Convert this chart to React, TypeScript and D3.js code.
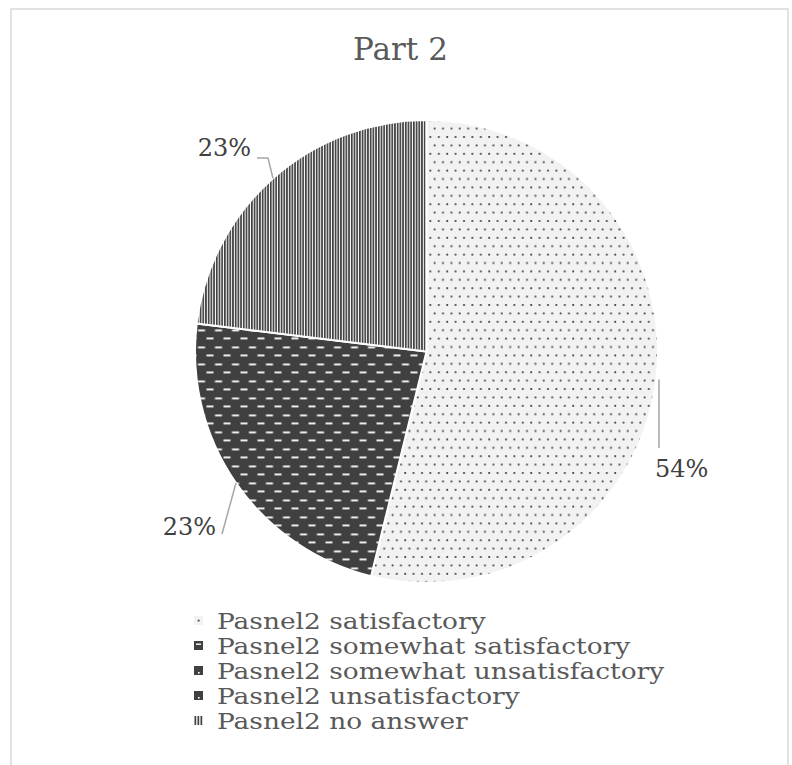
import React from "react";
import * as d3 from "d3";

const title = "Part 2";
const categories = [
  "Pasnel2 satisfactory",
  "Pasnel2 somewhat satisfactory",
  "Pasnel2 somewhat unsatisfactory",
  "Pasnel2 unsatisfactory",
  "Pasnel2 no answer",
];
const values = [7, 3, 0, 0, 3];
const patternIds = ["pDots", "pDash", "pSU", "pUns", "pVert"];

const W = 792;
const H = 765;
const cx = 426.5;
const cy = 351.5;
const R = 231.5;
const FONT = "'DejaVu Serif', serif";

const labelLayout: Record<number, { lx: number; ly: number; anchor: string; path: (a: [number, number]) => string }> = {
  0: {
    lx: 655, ly: 477, anchor: "start",
    path: (a) => `M659,${a[1]}L659,448`,
  },
  1: {
    lx: 216, ly: 535, anchor: "end",
    path: (a) => `M${a[0]},${a[1]}L222,534`,
  },
  4: {
    lx: 251, ly: 156, anchor: "end",
    path: (a) => `M${a[0]},${a[1]}L268,158L257,158`,
  },
};

function Marker({ i, x, y }: { i: number; x: number; y: number }) {
  const s = 9;
  if (i === 0)
    return (
      <g>
        <rect x={x} y={y} width={s} height={s} fill="#f2f2f2" />
        <rect x={x + 3.7} y={y + 3.7} width={1.8} height={1.8} fill="#404040" />
      </g>
    );
  if (i === 1)
    return (
      <g>
        <rect x={x} y={y} width={s} height={s} fill="#404040" />
        <rect x={x + 2} y={y + 2.5} width={5} height={1.4} fill="#ffffff" />
      </g>
    );
  if (i === 2 || i === 3)
    return (
      <g>
        <rect x={x} y={y} width={s} height={s} fill="#404040" />
        <rect x={x + 4} y={y + 6} width={1.6} height={1.6} fill="#ffffff" />
      </g>
    );
  return (
    <g>
      <rect x={x} y={y} width={s} height={s} fill="#ffffff" />
      {[0, 3, 6].map((d) => (
        <rect key={d} x={x + d + 0.5} y={y} width={1.7} height={s} fill="#404040" />
      ))}
    </g>
  );
}

export default function App() {
  const total = d3.sum(values);
  const pie = d3.pie<number>().sort(null).value((d) => d).startAngle(0).endAngle(2 * Math.PI);
  const arcs = pie(values);
  const arc = d3.arc<d3.PieArcDatum<number>>().innerRadius(0).outerRadius(R);
  const fmt = d3.format(".0%");

  const legendX = 194;
  const legendY0 = 629;
  const legendStep = 25;

  return (
    <svg width={W} height={H} style={{ position: "absolute", left: 0, top: 0 }}>
      <defs>
        <pattern id="pDots" patternUnits="userSpaceOnUse" width={8.4} height={16.8}>
          <rect width={8.4} height={16.8} fill="#f2f2f2" />
          <rect x={3} y={3} width={1.8} height={1.8} fill="#404040" />
          <rect x={7.2} y={11.4} width={1.8} height={1.8} fill="#404040" />
          <rect x={-1.2} y={11.4} width={1.8} height={1.8} fill="#404040" />
        </pattern>
        <pattern id="pDash" patternUnits="userSpaceOnUse" width={17} height={17}>
          <rect width={17} height={17} fill="#404040" />
          <rect x={1} y={3} width={7} height={1.8} fill="#ffffff" />
          <rect x={9.5} y={12} width={7} height={1.8} fill="#ffffff" />
        </pattern>
        <pattern id="pSU" patternUnits="userSpaceOnUse" width={8} height={8}>
          <rect width={8} height={8} fill="#404040" />
          <rect x={5} y={5} width={2} height={2} fill="#ffffff" />
        </pattern>
        <pattern id="pUns" patternUnits="userSpaceOnUse" width={8} height={8}>
          <rect width={8} height={8} fill="#404040" />
          <rect x={4} y={5} width={1.5} height={1.5} fill="#ffffff" />
        </pattern>
        <pattern id="pVert" patternUnits="userSpaceOnUse" width={2.7} height={10}>
          <rect width={2.7} height={10} fill="#ffffff" />
          <rect x={0} y={0} width={1.7} height={10} fill="#404040" />
        </pattern>
      </defs>
      <rect x={11} y={9} width={777} height={H + 20} fill="#ffffff" stroke="#d9d9d9" strokeWidth={1.5} />
      <text x={400.5} y={60} textAnchor="middle" fontFamily={FONT} fontSize={31} fill="#595959">
        {title}
      </text>
      <g transform={`translate(${cx},${cy})`}>
        {arcs.map((a, i) =>
          a.value > 0 ? (
            <path key={i} d={arc(a) || ""} fill={`url(#${patternIds[i]})`} stroke="#ffffff" strokeWidth={2} />
          ) : null
        )}
      </g>
      {arcs.map((a, i) => {
        const lay = labelLayout[i];
        if (!lay || a.value <= 0) return null;
        const mid = (a.startAngle + a.endAngle) / 2;
        const p: [number, number] = [cx + R * Math.sin(mid), cy - R * Math.cos(mid)];
        return (
          <g key={"l" + i}>
            <path d={lay.path(p)} fill="none" stroke="#a6a6a6" strokeWidth={1.5} />
            <text x={lay.lx} y={lay.ly} textAnchor={lay.anchor} fontFamily={FONT} fontSize={24} fill="#404040">
              {fmt(a.value / total)}
            </text>
          </g>
        );
      })}
      {categories.map((c, i) => (
        <g key={"lg" + i}>
          <Marker i={i} x={legendX} y={legendY0 + i * legendStep - 13} />
          <text
            transform={`translate(217,${legendY0 + i * legendStep}) scale(1.23,1)`}
            fontFamily={FONT}
            fontSize={21.5}
            fill="#595959"
          >
            {c}
          </text>
        </g>
      ))}
    </svg>
  );
}
